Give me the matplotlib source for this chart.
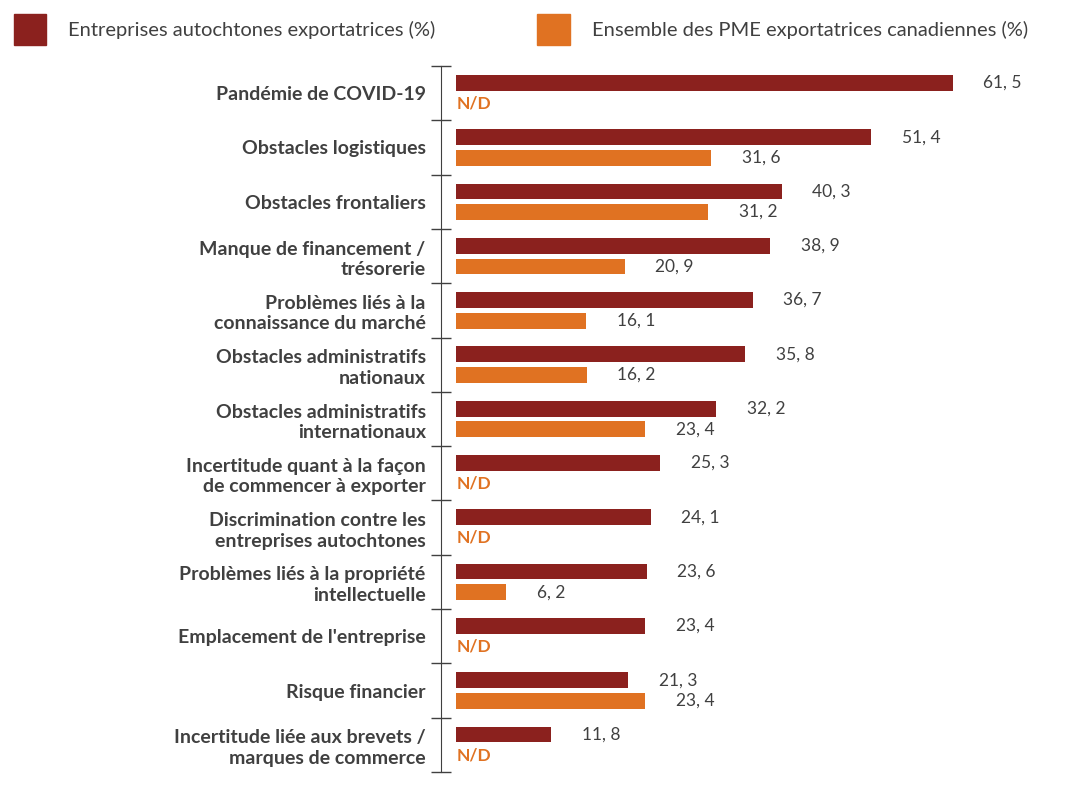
import matplotlib
matplotlib.use("Agg")
import matplotlib.pyplot as plt
from matplotlib.patches import Rectangle

categories = [
    "Pandémie de COVID-19",
    "Obstacles logistiques",
    "Obstacles frontaliers",
    "Manque de financement /\ntrésorerie",
    "Problèmes liés à la\nconnaissance du marché",
    "Obstacles administratifs\nnationaux",
    "Obstacles administratifs\ninternationaux",
    "Incertitude quant à la façon\nde commencer à exporter",
    "Discrimination contre les\nentreprises autochtones",
    "Problèmes liés à la propriété\nintellectuelle",
    "Emplacement de l'entreprise",
    "Risque financier",
    "Incertitude liée aux brevets /\nmarques de commerce",
]
autochtones = [61.5, 51.4, 40.3, 38.9, 36.7, 35.8, 32.2, 25.3, 24.1, 23.6, 23.4, 21.3, 11.8]
pme = [None, 31.6, 31.2, 20.9, 16.1, 16.2, 23.4, None, None, 6.2, None, 23.4, None]

legend_labels = ["Entreprises autochtones exportatrices (%)",
                 "Ensemble des PME exportatrices canadiennes (%)"]

DARK = "#8B211E"
ORANGE = "#E07222"
GRAY = "#404040"

fig = plt.figure(figsize=(10.71, 7.86), dpi=100)
ax = fig.add_axes([441 / 1071, 1 - 772 / 786, 630 / 1071, (772 - 66) / 786])

n = len(categories)
off_dark = 0.31
off_orange = 0.69
h = 0.29

for i in range(n):
    ax.barh(i + off_dark, autochtones[i], height=h, left=0, color=DARK)
    ax.annotate(f"{autochtones[i]:.1f}".replace(".", ", "),
                xy=(autochtones[i], i + off_dark), xytext=(22, 0),
                textcoords="offset points", va="center", ha="left",
                fontsize=12.5, color=GRAY, family="Lato")
    if pme[i] is None:
        ax.text(0.1, i + off_orange, "N/D", va="center", ha="left",
                fontsize=12.5, color=ORANGE, fontweight="bold", family="Lato")
    else:
        ax.barh(i + off_orange, pme[i], height=h, left=0, color=ORANGE)
        ax.annotate(f"{pme[i]:.1f}".replace(".", ", "),
                    xy=(pme[i], i + off_orange), xytext=(22, 0),
                    textcoords="offset points", va="center", ha="left",
                    fontsize=12.5, color=GRAY, family="Lato")

ax.set_xlim(-15 / 8.08, 615 / 8.08)
ax.set_ylim(n, 0)

for s in ["top", "right", "bottom"]:
    ax.spines[s].set_visible(False)
ax.spines["left"].set_color(GRAY)
ax.set_xticks([])

ax.set_yticks(range(n + 1))
ax.set_yticklabels([])
ax.tick_params(axis="y", which="major", direction="inout", length=15, color=GRAY, width=1)
ax.set_yticks([i + 0.5 for i in range(n)], minor=True)
ax.set_yticklabels(categories, minor=True, fontsize=14, fontweight="bold",
                   color=GRAY, family="Lato", linespacing=1.25)
ax.tick_params(axis="y", which="minor", length=0, pad=11)

# legend
fig.add_artist(Rectangle((14 / 1071, 1 - 45 / 786), 32 / 1071, 31 / 786,
                         transform=fig.transFigure, color=DARK))
fig.add_artist(Rectangle((537 / 1071, 1 - 45 / 786), 33 / 1071, 31 / 786,
                         transform=fig.transFigure, color=ORANGE))
fig.text(68 / 1071, 1 - 30 / 786, legend_labels[0], va="center", ha="left",
         fontsize=14.5, color=GRAY, family="Lato")
fig.text(592 / 1071, 1 - 30 / 786, legend_labels[1], va="center", ha="left",
         fontsize=14.5, color=GRAY, family="Lato")

fig.savefig("out.png", dpi=100)
